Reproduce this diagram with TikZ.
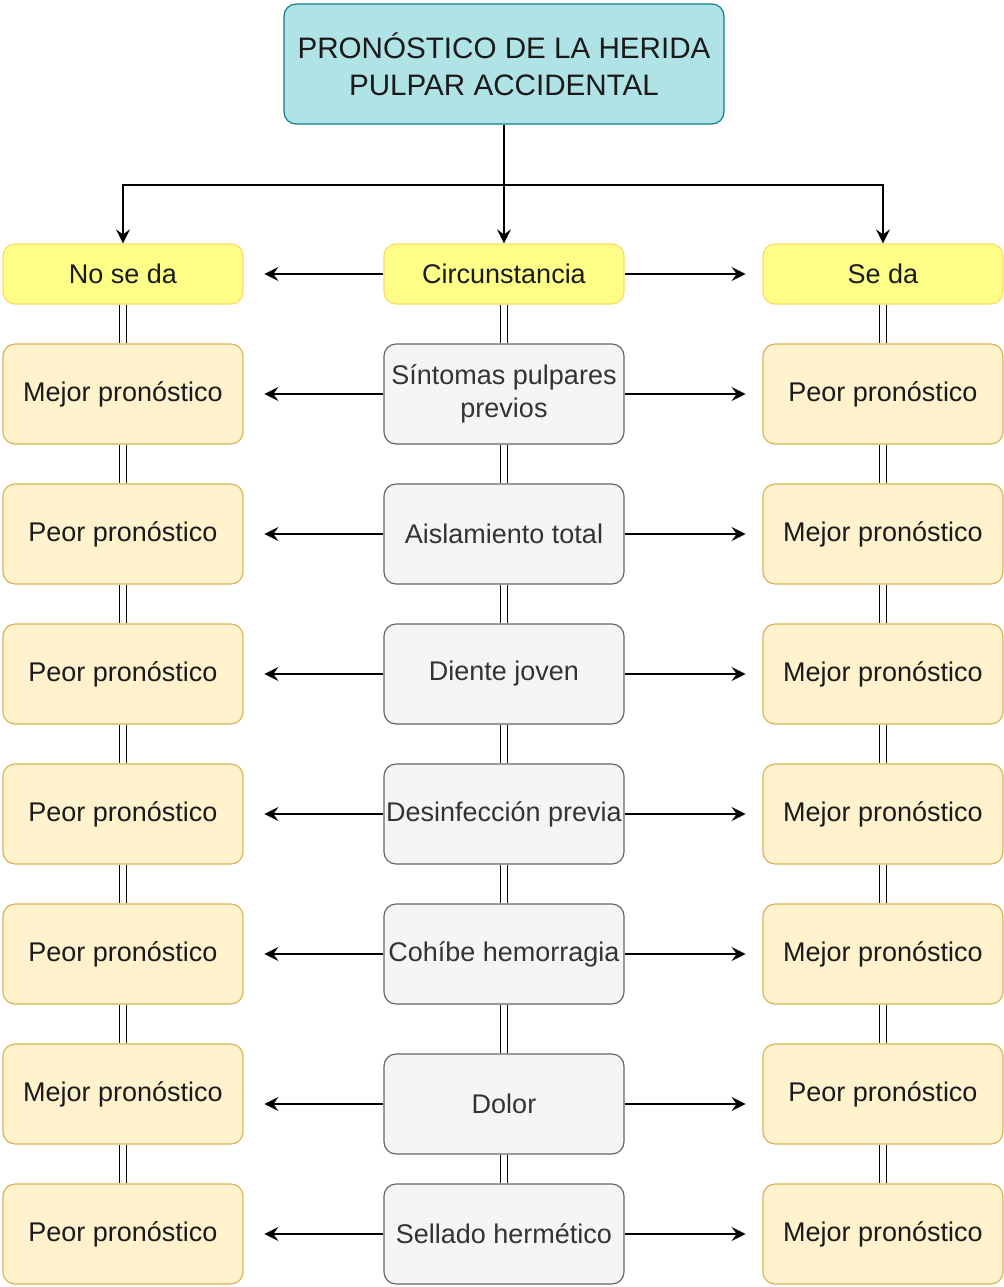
\documentclass[tikz,border=0pt]{standalone}
\usepackage{fontspec}
\setmainfont{Liberation Sans}
\usetikzlibrary{arrows.meta}
\definecolor{tealF}{HTML}{B0E3E6}
\definecolor{tealD}{HTML}{0E8088}
\definecolor{yelF}{HTML}{FFFF88}
\definecolor{yelD}{HTML}{FFD966}
\definecolor{orF}{HTML}{FFF2CC}
\definecolor{orD}{HTML}{D6B656}
\definecolor{grF}{HTML}{F5F5F5}
\definecolor{grD}{HTML}{666666}
\definecolor{grT}{HTML}{333333}
\definecolor{txt}{HTML}{1A1A1A}
\begin{document}
\begin{tikzpicture}[x=0.5pt,y=-0.5pt,
  box/.style={draw, rounded corners=6pt, line width=0.6pt, minimum width=120pt, minimum height=50pt, inner sep=0pt, align=center, font=\fontsize{13.5}{16.5}\selectfont, text=txt},
  titlebox/.style={box, fill=tealF, draw=tealD, minimum width=220pt, minimum height=60pt, font=\fontsize{14.8}{18.5}\selectfont},
  ybox/.style={box, fill=yelF, draw=yelD, minimum height=30pt},
  obox/.style={box, fill=orF, draw=orD},
  gbox/.style={box, fill=grF, draw=grD, text=grT},
  arr/.style={-{Stealth[length=7pt,width=7pt,inset=2.5pt]}, line width=0.9pt},
  dbl/.style={double, double distance=2.6pt, line width=0.7pt}]
\useasboundingbox (0,0) rectangle (1003,1287);

\node[titlebox] (T) at (504,64) {PRONÓSTICO DE LA HERIDA\\PULPAR ACCIDENTAL};
\node[ybox] (L0) at (123,274) {No se da};
\node[ybox] (M0) at (504,274) {Circunstancia};
\node[ybox] (R0) at (883,274) {Se da};

% rows
\node[obox] (L1) at (123,394) {Mejor pronóstico};
\node[obox] (L2) at (123,534) {Peor pronóstico};
\node[obox] (L3) at (123,674) {Peor pronóstico};
\node[obox] (L4) at (123,814) {Peor pronóstico};
\node[obox] (L5) at (123,954) {Peor pronóstico};
\node[obox] (L6) at (123,1094) {Mejor pronóstico};
\node[obox] (L7) at (123,1234) {Peor pronóstico};

\node[gbox] (M1) at (504,394) {Síntomas pulpares\\previos};
\node[gbox] (M2) at (504,534) {Aislamiento total};
\node[gbox] (M3) at (504,674) {Diente joven};
\node[gbox] (M4) at (504,814) {Desinfección previa};
\node[gbox] (M5) at (504,954) {Cohíbe hemorragia};
\node[gbox] (M6) at (504,1104) {Dolor};
\node[gbox] (M7) at (504,1234) {Sellado hermético};

\node[obox] (R1) at (883,394) {Peor pronóstico};
\node[obox] (R2) at (883,534) {Mejor pronóstico};
\node[obox] (R3) at (883,674) {Mejor pronóstico};
\node[obox] (R4) at (883,814) {Mejor pronóstico};
\node[obox] (R5) at (883,954) {Mejor pronóstico};
\node[obox] (R6) at (883,1094) {Peor pronóstico};
\node[obox] (R7) at (883,1234) {Mejor pronóstico};

% top connectors
\draw[arr] (T.south) -- (M0.north);
\draw[arr] (T.south) -- ++(0,60) -| (L0.north);
\draw[arr] (T.south) -- ++(0,60) -| (R0.north);

% horizontal arrows
\foreach \i in {0,...,7}{
  \draw[arr] (M\i.west) -- ++(-119,0);
  \draw[arr] (M\i.east) -- ++(121,0);
}

% double links
\foreach \i [evaluate=\i as \j using int(\i+1)] in {0,...,6}{
  \draw[dbl] (L\i.south) -- (L\j.north);
  \draw[dbl] (M\i.south) -- (M\j.north);
  \draw[dbl] (R\i.south) -- (R\j.north);
}
\end{tikzpicture}
\end{document}
